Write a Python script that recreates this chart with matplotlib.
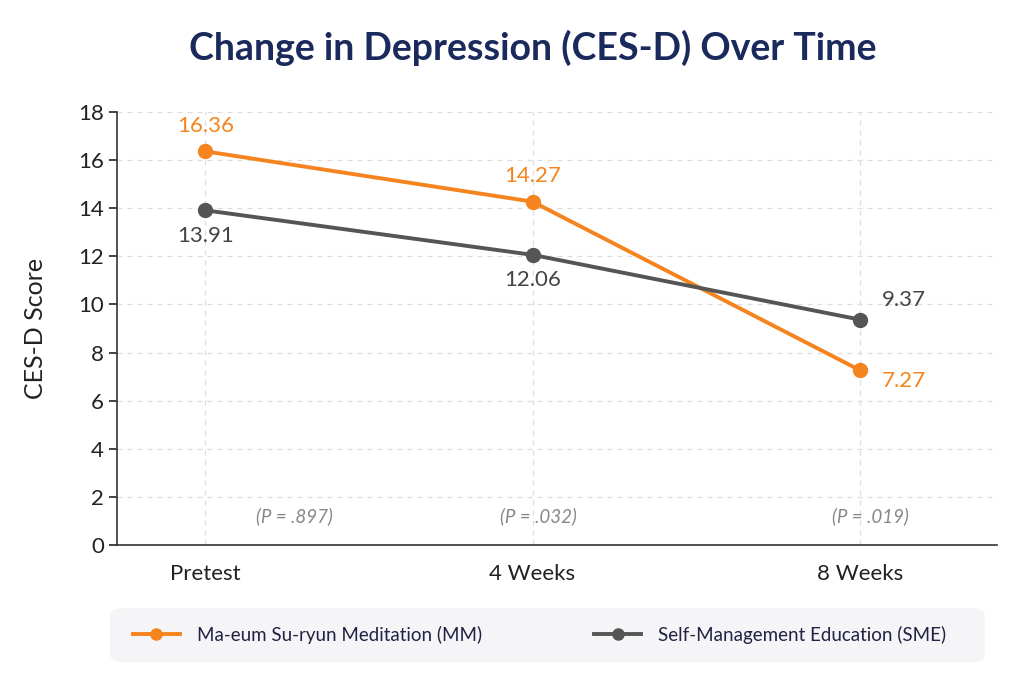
#!/usr/bin/env python3
"""Change in depression (CES-D) over time, MM vs SME groups."""

import matplotlib
import matplotlib.pyplot as plt
from matplotlib.patches import FancyBboxPatch

matplotlib.use("Agg")

plt.rcParams.update(
    {
        "font.family": ["Lato", "DejaVu Sans"],
        "font.size": 13,
        "axes.linewidth": 1.2,
    }
)

# Data
timepoints = ["Pretest", "4 Weeks", "8 Weeks"]
mm_scores = [16.36, 14.27, 7.27]
sme_scores = [13.91, 12.06, 9.37]
p_values = ["(P = .897)", "(P = .032)", "(P = .019)"]
y_ticks = [0, 2, 4, 6, 8, 10, 12, 14, 16, 18]

ORANGE = "#F5841F"
GRAY = "#555555"
NAVY = "#1B2A5C"


def create_plot():
    fig = plt.figure(figsize=(10.24, 6.82), dpi=100)
    ax = fig.add_axes([0.1143, 0.2009, 0.8594, 0.635])

    x = list(range(len(timepoints)))
    ax.plot(x, mm_scores, color=ORANGE, linewidth=2.8, marker="o",
            markersize=10, label="Ma-eum Su-ryun Meditation (MM)", zorder=3)
    ax.plot(x, sme_scores, color=GRAY, linewidth=2.8, marker="o",
            markersize=10, label="Self-Management Education (SME)", zorder=3)

    # value labels
    mm_offsets = [(0, 11), (0, 11), (16, -8)]
    mm_align = [("center", "bottom"), ("center", "bottom"), ("left", "center")]
    for i, v in enumerate(mm_scores):
        ax.annotate(f"{v:.2f}", (x[i], v), xytext=mm_offsets[i],
                    textcoords="offset points", ha=mm_align[i][0],
                    va=mm_align[i][1], color=ORANGE, fontsize=16)
    sme_offsets = [(0, -11), (0, -11), (16, 14)]
    sme_align = [("center", "top"), ("center", "top"), ("left", "center")]
    for i, v in enumerate(sme_scores):
        ax.annotate(f"{v:.2f}", (x[i], v), xytext=sme_offsets[i],
                    textcoords="offset points", ha=sme_align[i][0],
                    va=sme_align[i][1], color="#444444", fontsize=16)

    # p-values
    p_shift = [64, 4, 8]
    for i, p in enumerate(p_values):
        ax.annotate(p, (x[i], 1.2), xytext=(p_shift[i], 0),
                    textcoords="offset points", ha="center", va="center",
                    color="#888888", fontsize=13.5, style="italic")

    ax.set_xlim(-0.27, 2.42)
    ax.set_ylim(0, 18)
    ax.set_yticks(y_ticks)
    ax.set_xticks(x)
    ax.set_xticklabels(timepoints, fontsize=16, color="#222222")
    ax.tick_params(axis="x", length=0, pad=14)
    ax.tick_params(axis="y", labelsize=16, length=6, width=1.2,
                   colors="#222222")
    ax.set_ylabel("CES-D Score", fontsize=18, labelpad=22, color="#222222")

    ax.grid(True, color="#dddddd", linestyle=(0, (4, 4)), linewidth=0.9)
    ax.set_axisbelow(True)
    for side in ("top", "right"):
        ax.spines[side].set_visible(False)
    for side in ("left", "bottom"):
        ax.spines[side].set_color("#333333")

    fig.text(0.52, 0.93, "Change in Depression (CES-D) Over Time",
             ha="center", va="center", fontsize=27, color=NAVY,
             fontweight="bold")

    # legend box
    box = FancyBboxPatch((110 / 1024, 20 / 682), 875 / 1024, 54 / 682,
                         boxstyle="round,pad=0,rounding_size=0.012",
                         transform=fig.transFigure, facecolor="#f5f5f7",
                         edgecolor="none", zorder=0)
    fig.patches.append(box)
    fig.legend(loc="center", bbox_to_anchor=(0.527, 47 / 682), ncol=2,
               frameon=False, fontsize=13.5, handlelength=2.5,
               handletextpad=0.9, columnspacing=6,
               markerscale=0.8, labelcolor="#222244")
    return fig


def main():
    fig = create_plot()
    fig.savefig("out.png", dpi=100, facecolor="white")
    plt.close(fig)


if __name__ == "__main__":
    main()
